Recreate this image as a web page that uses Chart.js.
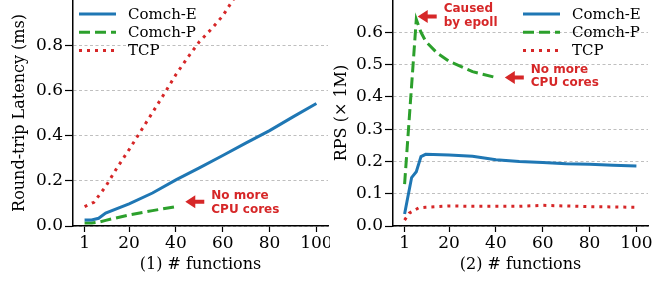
<!DOCTYPE html>
<html>
<head>
<meta charset="utf-8">
<script src="https://cdn.jsdelivr.net/npm/chart.js@4/dist/chart.umd.min.js"></script>
<style>
  body { margin: 0; background: #fff; }
  #wrap { position: relative; width: 667px; height: 283px; overflow: hidden; }
  canvas { position: absolute; top: 0; }
  #lat { left: 0; }
  #rps { left: 330px; background: #fff; }
</style>
</head>
<body>
<div id="wrap">
  <canvas id="lat" width="330" height="283"></canvas>
  <canvas id="rps" width="337" height="283"></canvas>
</div>
<script>
// (1) latency vs # functions
const latEX = [1, 4, 7, 10, 20, 30, 40, 50, 60, 70, 80, 90, 100];
const latEY = [0.026, 0.027, 0.034, 0.057, 0.098, 0.146, 0.204, 0.257, 0.312, 0.368, 0.422, 0.483, 0.542];
const latPX = [1, 4, 7, 10, 20, 30, 40];
const latPY = [0.013, 0.013, 0.017, 0.025, 0.049, 0.068, 0.086];
const latTX = [1, 5, 10, 15, 20, 25, 30, 35, 40, 45, 50, 55, 60, 65, 70];
const latTY = [0.086, 0.105, 0.175, 0.26, 0.338, 0.42, 0.502, 0.585, 0.67, 0.745, 0.815, 0.87, 0.93, 1.01, 1.09];

// (2) RPS vs # functions
const rpsEX = [1, 2, 4, 6, 8, 10, 20, 30, 40, 50, 60, 70, 80, 90, 100];
const rpsEY = [0.037, 0.075, 0.15, 0.168, 0.215, 0.222, 0.22, 0.216, 0.205, 0.2, 0.197, 0.193, 0.191, 0.188, 0.186];
const rpsPX = [1, 6, 8, 10, 15, 20, 30, 40];
const rpsPY = [0.13, 0.64, 0.6, 0.572, 0.535, 0.51, 0.478, 0.46];
const rpsTX = [1, 3, 7, 10, 20, 30, 40, 50, 60, 70, 80, 90, 100];
const rpsTY = [0.018, 0.04, 0.056, 0.058, 0.062, 0.061, 0.061, 0.061, 0.064, 0.062, 0.06, 0.059, 0.058];

const seriesNames = ["Comch-E", "Comch-P", "TCP"];
const xTicks = [1, 20, 40, 60, 80, 100];
const latTicks = [0, 0.2, 0.4, 0.6, 0.8];
const rpsTicks = [0, 0.1, 0.2, 0.3, 0.4, 0.5, 0.6];

const BLUE = "#1f77b4", GREEN = "#2ca02c", RED = "#d62728";
const SERIF = "'DejaVu Serif', serif";

function pts(xs, ys) {
  return xs.map((x, i) => ({ x: x, y: ys[i] }));
}

function sets(e, p, t) {
  return [
    { label: seriesNames[0], data: e, borderColor: BLUE, borderWidth: 3, borderDash: [] },
    { label: seriesNames[1], data: p, borderColor: GREEN, borderWidth: 3, borderDash: [11, 5] },
    { label: seriesNames[2], data: t, borderColor: RED, borderWidth: 3, borderDash: [3, 5] }
  ];
}

// legend drawn inside the plot area, no frame
const inLegend = {
  id: "inLegend",
  afterDatasetsDraw(chart, args, o) {
    const ctx = chart.ctx;
    ctx.save();
    ctx.font = "15px " + SERIF;
    ctx.textBaseline = "middle";
    ctx.fillStyle = "#000";
    chart.data.datasets.forEach((d, i) => {
      const y = o.y + i * 18.3;
      ctx.beginPath();
      ctx.strokeStyle = d.borderColor;
      ctx.lineWidth = d.borderWidth;
      ctx.setLineDash(d.borderDash);
      ctx.moveTo(o.x, y);
      ctx.lineTo(o.x + 37, y);
      ctx.stroke();
      ctx.fillText(d.label, o.x + 49, y + 1);
    });
    ctx.restore();
  }
};

// red arrows with notes, anchored at data coordinates
const notes = {
  id: "notes",
  afterDatasetsDraw(chart, args, o) {
    const ctx = chart.ctx;
    const xs = chart.scales.x, ys = chart.scales.y;
    ctx.save();
    ctx.fillStyle = RED;
    (o.items || []).forEach(n => {
      const tx = xs.getPixelForValue(n.x), ty = ys.getPixelForValue(n.y);
      ctx.beginPath();
      ctx.moveTo(tx, ty);
      ctx.lineTo(tx + 10, ty - 6.5);
      ctx.lineTo(tx + 10, ty - 2);
      ctx.lineTo(tx + 19, ty - 2);
      ctx.lineTo(tx + 19, ty + 2);
      ctx.lineTo(tx + 10, ty + 2);
      ctx.lineTo(tx + 10, ty + 6.5);
      ctx.closePath();
      ctx.fill();
      ctx.font = "bold 12px 'DejaVu Sans', sans-serif";
      ctx.textBaseline = "middle";
      ctx.fillText(n.text[0], tx + 26, ty - 6.5 + n.dy);
      ctx.fillText(n.text[1], tx + 26, ty + 7 + n.dy);
    });
    ctx.restore();
  }
};

function makeChart(id, datasets, yMax, yTicks, yTitle, yWidth, titlePad, padRight, xTitle, legendX, noteItems) {
  return new Chart(document.getElementById(id), {
    type: "line",
    data: { datasets: datasets },
    options: {
      responsive: false,
      animation: false,
      layout: { padding: { top: 0, right: padRight, bottom: 0, left: 0 } },
      elements: { point: { radius: 0 }, line: { tension: 0, borderCapStyle: "butt", fill: false } },
      plugins: {
        legend: { display: false },
        tooltip: { enabled: false },
        inLegend: { x: legendX, y: 14 },
        notes: { items: noteItems }
      },
      scales: {
        x: {
          type: "linear",
          min: -3.95,
          max: 104.95,
          afterBuildTicks: s => { s.ticks = xTicks.map(v => ({ value: v })); },
          afterFit: s => { s.height = 57; s.paddingLeft = 0; s.paddingRight = 0; },
          border: { color: "#000", width: 1.5 },
          grid: { drawOnChartArea: false, drawTicks: true, tickLength: 6, tickColor: "#000", tickWidth: 1.2 },
          ticks: { color: "#000", padding: 1, maxRotation: 0, font: { family: SERIF, size: 17 } },
          title: { display: true, text: xTitle, color: "#000", font: { family: SERIF, size: 16 }, padding: { top: 0, bottom: 8.4 } }
        },
        y: {
          min: 0,
          max: yMax,
          afterBuildTicks: s => { s.ticks = yTicks.map(v => ({ value: v })); },
          afterFit: s => { s.width = yWidth; s.paddingTop = 0; s.paddingBottom = 0; },
          // in Chart.js v4 border.dash styles the grid lines, the axis line stays solid
          border: { color: "#000", width: 1.5, dash: [3, 2.5] },
          grid: {
            color: "#b8b8b8", lineWidth: 0.9,
            drawTicks: true, tickLength: 8, tickColor: "#000", tickWidth: 1.2, tickBorderDash: []
          },
          ticks: { color: "#000", padding: 2, font: { family: SERIF, size: 17 }, callback: v => v.toFixed(1) },
          title: { display: true, text: yTitle, color: "#000", font: { family: SERIF, size: 16 }, padding: { top: titlePad, bottom: 0 } }
        }
      }
    },
    plugins: [inLegend, notes]
  });
}

makeChart("lat",
  sets(pts(latEX, latEY), pts(latPX, latPY), pts(latTX, latTY)),
  1.0, latTicks, "Round-trip Latency (ms)", 73, 10.4, 2, "(1) # functions", 79,
  [{ x: 44, y: 0.107, dy: 1, text: ["No more", "CPU cores"] }]);

makeChart("rps",
  sets(pts(rpsEX, rpsEY), pts(rpsPX, rpsPY), pts(rpsTX, rpsTY)),
  0.7, rpsTicks, "RPS (\u00d7 1M)", 63, 2.4, 19, "(2) # functions", 193,
  [{ x: 6.6, y: 0.649, dy: -1, text: ["Caused", "by epoll"] },
   { x: 43.8, y: 0.46, dy: -1.5, text: ["No more", "CPU cores"] }]);
</script>
</body>
</html>
